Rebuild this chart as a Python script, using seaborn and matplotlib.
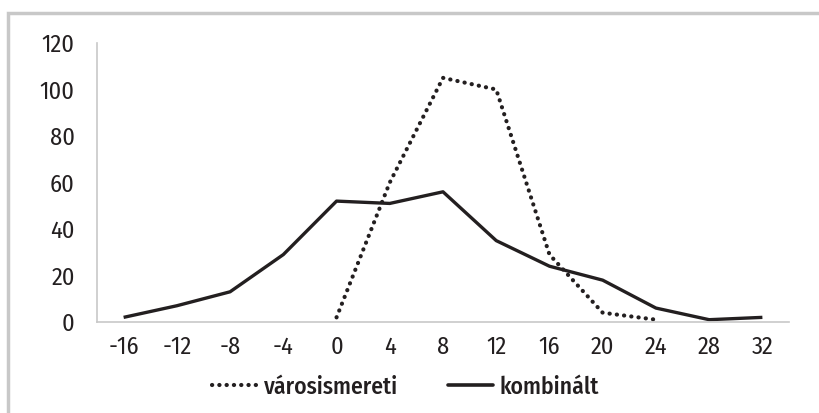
import pandas as pd
import matplotlib.pyplot as plt
import seaborn as sns
from matplotlib.patches import Rectangle
from matplotlib.lines import Line2D

# data
x_vals = [-16, -12, -8, -4, 0, 4, 8, 12, 16, 20, 24, 28, 32]
kombinalt = [2, 7, 13, 29, 52, 51, 56, 35, 24, 18, 6, 1, 2]
varos_x = [0, 4, 8, 12, 16, 20, 24]
varosismereti = [2, 60, 105, 100, 29, 4, 1]

df = pd.concat([
    pd.DataFrame({'x': varos_x, 'y': varosismereti, 'sorozat': 'városismereti'}),
    pd.DataFrame({'x': x_vals, 'y': kombinalt, 'sorozat': 'kombinált'}),
])

sns.set_style('white')
plt.rcParams['font.family'] = ['Fira Sans Condensed', 'Barlow Semi Condensed', 'DejaVu Sans']
plt.rcParams['axes.unicode_minus'] = False
txt = '#231f20'

fig = plt.figure(figsize=(8.2, 4.13), dpi=100)
ax = fig.add_axes([0.1183, 0.2203, 0.8439, 0.6756])

sns.lineplot(data=df, x='x', y='y', hue='sorozat', style='sorozat',
             palette=['#231f20', '#231f20'],
             dashes={'városismereti': (0.05, 1.7), 'kombinált': ''},
             linewidth=2.4, ax=ax, legend=False, sort=False)
for ln in ax.lines:
    ln.set_dash_capstyle('round')
    ln.set_solid_capstyle('butt')
ax.lines[0].set_linewidth(3.0)

ax.set_xlim(-18, 34)
ax.set_ylim(0, 120)
ax.set_xticks(x_vals)
ax.set_yticks(range(0, 121, 20))
ax.tick_params(axis='x', length=0, labelsize=17.5, colors=txt, pad=10)
ax.tick_params(axis='y', length=0, labelsize=17.5, colors=txt, pad=16)
ax.set_xlabel('')
ax.set_ylabel('')
for s in ['top', 'right']:
    ax.spines[s].set_visible(False)
for s in ['left', 'bottom']:
    ax.spines[s].set_color('#c8c8c8')
    ax.spines[s].set_linewidth(1.2)

handles = [Line2D([], [], color=txt, lw=3.0, linestyle=(0, (0.05, 1.7)), dash_capstyle='round'),
           Line2D([], [], color=txt, lw=2.6)]
fig.legend(handles, ['városismereti', 'kombinált'], loc='center',
           bbox_to_anchor=(0.4945, 0.063), ncol=2, frameon=False,
           prop={'size': 17, 'weight': 'medium'}, handlelength=1.9,
           columnspacing=2.1, handletextpad=0.3, labelcolor=txt)

# grey frame around the chart
fig.patches.append(Rectangle((8 / 820, -0.1), 1.2, 1 - 13 / 413 + 0.1,
                             transform=fig.transFigure, fill=False,
                             edgecolor='#c8c8c8', linewidth=2.5))

fig.savefig('out.png', dpi=100)
